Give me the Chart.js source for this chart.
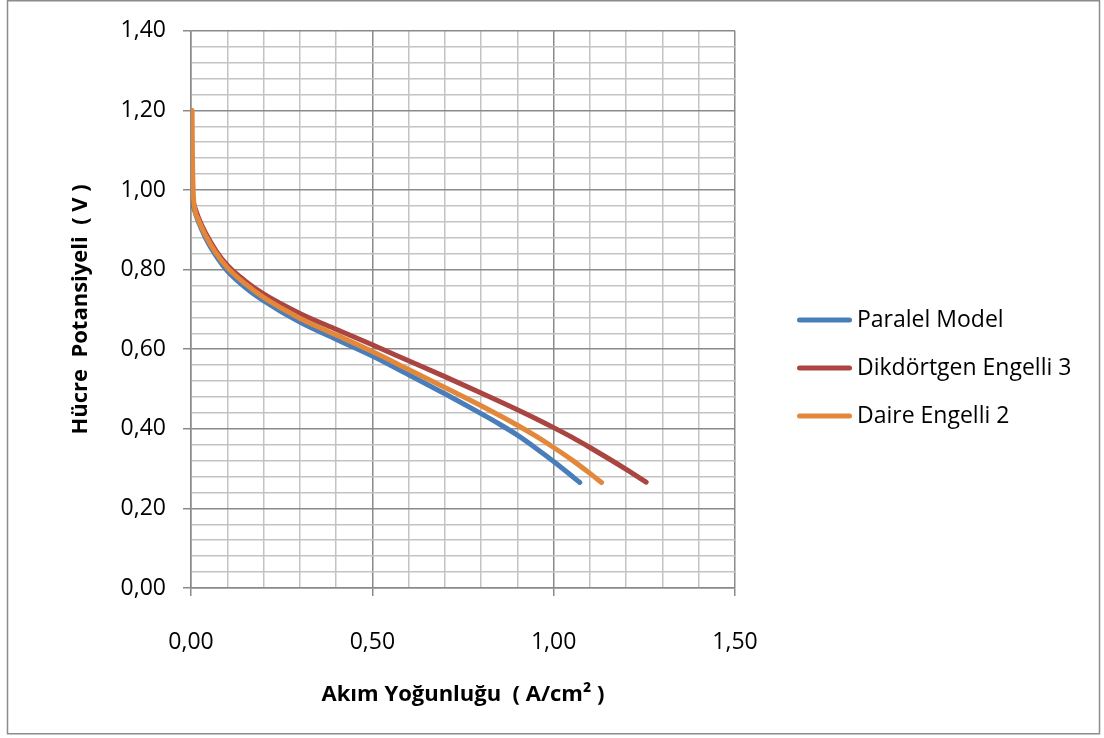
<!DOCTYPE html>
<html>
<head>
<meta charset="utf-8">
<script src="https://cdn.jsdelivr.net/npm/chart.js@4.4.1/dist/chart.umd.min.js"></script>
<style>
  html, body { margin: 0; padding: 0; background: #ffffff; }
  #wrap { width: 1104px; height: 738px; position: relative; }
</style>
</head>
<body>
<div id="wrap"><canvas id="c" width="1104" height="738"></canvas></div>
<script>
// ---- data ----
const seriesNames = ['Paralel Model', 'Dikdörtgen Engelli 3', 'Daire Engelli 2'];

const paralelX = [0.001, 0.004, 0.01, 0.02, 0.04, 0.07, 0.1, 0.15, 0.2, 0.3, 0.4, 0.5, 0.6, 0.7, 0.8, 0.85, 0.9, 0.95, 1.0, 1.04, 1.072];
const paralelY = [1.00, 0.970, 0.948, 0.921, 0.880, 0.833, 0.797, 0.755, 0.722, 0.668, 0.625, 0.583, 0.536, 0.488, 0.438, 0.412, 0.384, 0.352, 0.318, 0.289, 0.265];

const dikdortgenX = [0.002, 0.005, 0.01, 0.02, 0.04, 0.07, 0.1, 0.15, 0.2, 0.3, 0.4, 0.5, 0.6, 0.7, 0.8, 0.9, 0.95, 1.0, 1.05, 1.1, 1.15, 1.2, 1.255];
const dikdortgenY = [1.00, 0.975, 0.958, 0.932, 0.892, 0.846, 0.811, 0.771, 0.739, 0.690, 0.650, 0.611, 0.571, 0.531, 0.490, 0.448, 0.426, 0.403, 0.379, 0.353, 0.326, 0.298, 0.266];

const daireX = [0.003, 0.004, 0.006, 0.01, 0.02, 0.04, 0.07, 0.1, 0.15, 0.2, 0.3, 0.4, 0.5, 0.6, 0.7, 0.8, 0.9, 0.95, 1.0, 1.05, 1.1, 1.132];
const daireY = [1.20, 1.09, 1.00, 0.955, 0.926, 0.886, 0.840, 0.805, 0.764, 0.730, 0.678, 0.636, 0.594, 0.549, 0.504, 0.458, 0.409, 0.382, 0.353, 0.322, 0.288, 0.265];

const xMin = 0, xMax = 1.5, xStep = 0.1, xMajor = 0.5;
const yMin = 0, yMax = 1.4, yStep = 0.04, yMajor = 0.2;

const xTitle = 'Akım Yoğunluğu  ( A/cm² )';
const yTitle = 'Hücre  Potansiyeli  ( V )';

const colors = ['#4a7ebb', '#aa4542', '#e3873a'];

// ---- helpers ----
function pairs(xs, ys) { return xs.map((x, i) => ({ x: x, y: ys[i] })); }
function isMajor(v, major) {
  const r = Math.round(v * 1000) / 1000;
  const q = r / major;
  return Math.abs(q - Math.round(q)) < 1e-6;
}
function fmt(v) { return v.toFixed(2).replace('.', ','); }

const FONT = "'Open Sans', 'DejaVu Sans', sans-serif";
const MAJOR_C = '#8a8a8a', MINOR_C = '#c3c3c3';

const borderPlugin = {
  id: 'outerBorder',
  afterDraw(chart) {
    const ctx = chart.ctx;
    ctx.save();
    ctx.strokeStyle = '#8c8c8c';
    ctx.lineWidth = 1.5;
    ctx.strokeRect(7.5, 0.75, 1092, 733);
    ctx.restore();
  }
};

const legendPlugin = {
  id: 'sideLegend',
  afterDraw(chart) {
    const ctx = chart.ctx;
    const x0 = 797, x1 = 852, textX = 857, yStart = 320, gap = 48;
    ctx.save();
    chart.data.datasets.forEach((ds, i) => {
      const y = yStart + i * gap;
      ctx.strokeStyle = ds.borderColor;
      ctx.lineWidth = 5;
      ctx.lineCap = 'round';
      ctx.beginPath();
      ctx.moveTo(x0 + 2.5, y);
      ctx.lineTo(x1 - 2.5, y);
      ctx.stroke();
      ctx.fillStyle = '#000000';
      ctx.font = '23px ' + FONT;
      ctx.textBaseline = 'middle';
      ctx.textAlign = 'left';
      ctx.fillText(ds.label, textX, y);
    });
    ctx.restore();
  }
};

const datasets = [
  { label: seriesNames[0], data: pairs(paralelX, paralelY), borderColor: colors[0], order: 2 },
  { label: seriesNames[1], data: pairs(dikdortgenX, dikdortgenY), borderColor: colors[1], order: 1 },
  { label: seriesNames[2], data: pairs(daireX, daireY), borderColor: colors[2], order: 0 }
].map(d => Object.assign(d, {
  backgroundColor: d.borderColor,
  borderWidth: 5,
  pointRadius: 0,
  pointHoverRadius: 0,
  fill: false,
  cubicInterpolationMode: 'monotone',
  borderCapStyle: 'round',
  borderJoinStyle: 'round'
}));

new Chart(document.getElementById('c'), {
  type: 'line',
  data: { datasets: datasets },
  plugins: [borderPlugin, legendPlugin],
  options: {
    responsive: false,
    devicePixelRatio: 1,
    animation: false,
    layout: { padding: { left: 0, top: 29, right: 369, bottom: 0 } },
    plugins: { legend: { display: false }, tooltip: { enabled: false } },
    scales: {
      x: {
        type: 'linear',
        min: xMin, max: xMax,
        afterFit(s) { s.height = 150; },
        ticks: {
          stepSize: xStep, autoSkip: false, maxRotation: 0, padding: 33,
          color: '#000000', font: { family: FONT, size: 23 },
          callback: v => isMajor(v, xMajor) ? fmt(v) : ''
        },
        grid: {
          color: c => isMajor(c.tick.value, xMajor) ? MAJOR_C : MINOR_C,
          tickColor: c => isMajor(c.tick.value, xMajor) ? MAJOR_C : 'rgba(0,0,0,0)',
          lineWidth: 1.5, tickLength: 8, tickWidth: 1.5
        },
        border: { color: MAJOR_C, width: 1.5 },
        title: {
          display: true, text: xTitle, color: '#000000',
          font: { family: FONT, size: 22, weight: 'bold' },
          padding: { top: 0, bottom: 30 }
        }
      },
      y: {
        type: 'linear',
        min: yMin, max: yMax,
        afterFit(s) { s.width = 191; },
        ticks: {
          stepSize: yStep, autoSkip: false, padding: 17,
          color: '#000000', font: { family: FONT, size: 23 },
          callback: v => isMajor(v, yMajor) ? fmt(v) : ''
        },
        grid: {
          color: c => isMajor(c.tick.value, yMajor) ? MAJOR_C : MINOR_C,
          tickColor: c => isMajor(c.tick.value, yMajor) ? MAJOR_C : 'rgba(0,0,0,0)',
          lineWidth: 1.5, tickLength: 8, tickWidth: 1.5
        },
        border: { color: MAJOR_C, width: 1.5 },
        title: {
          display: true, text: yTitle, color: '#000000',
          font: { family: FONT, size: 22, weight: 'bold' },
          padding: { top: 68, bottom: 0 }
        }
      }
    }
  }
});
</script>
</body>
</html>
